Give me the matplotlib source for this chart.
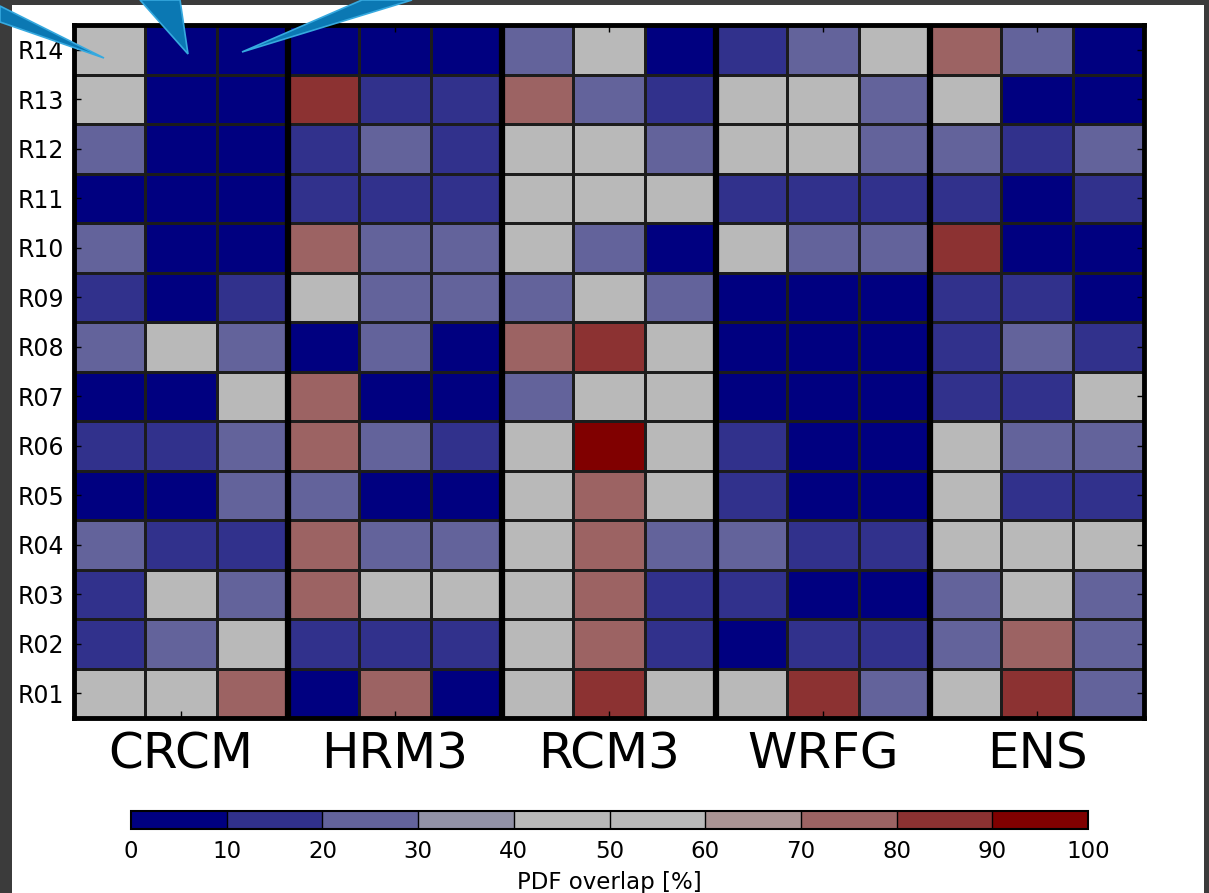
import numpy as np
import matplotlib
matplotlib.use("Agg")
import matplotlib.pyplot as plt
from matplotlib.colors import ListedColormap, BoundaryNorm
from matplotlib.patches import Rectangle, Polygon

# regions, listed top to bottom as in the figure
regions = ["R14", "R13", "R12", "R11", "R10", "R09", "R08",
           "R07", "R06", "R05", "R04", "R03", "R02", "R01"]
models = ["CRCM", "HRM3", "RCM3", "WRFG", "ENS"]

# PDF overlap [%], three columns per model, rows R14 -> R01
crcm = [[48, 3, 2], [52, 4, 1], [24, 2, 3], [6, 1, 2], [26, 3, 4],
        [14, 5, 16], [27, 45, 23], [7, 8, 51], [17, 12, 28], [5, 3, 22],
        [25, 18, 13], [11, 54, 26], [16, 21, 47], [55, 43, 73]]
hrm3 = [[2, 3, 4], [84, 15, 17], [13, 26, 18], [16, 14, 19], [74, 24, 27],
        [46, 22, 25], [6, 28, 4], [72, 5, 7], [76, 23, 12], [21, 3, 2],
        [77, 29, 24], [71, 53, 49], [15, 11, 14], [8, 78, 5]]
rcm3 = [[25, 44, 6], [73, 27, 13], [56, 42, 22], [50, 47, 58], [44, 26, 3],
        [23, 52, 28], [75, 86, 41], [24, 49, 57], [53, 96, 45], [48, 74, 55],
        [42, 77, 21], [57, 72, 17], [46, 79, 13], [51, 83, 43]]
wrfg = [[14, 25, 54], [47, 52, 23], [43, 58, 27], [18, 12, 15], [49, 22, 26],
        [4, 2, 6], [3, 5, 1], [7, 2, 4], [11, 3, 5], [16, 8, 2],
        [28, 19, 13], [12, 6, 3], [9, 17, 14], [45, 87, 24]]
ens = [[71, 24, 5], [50, 6, 3], [25, 16, 23], [13, 7, 18], [82, 4, 2],
       [15, 12, 8], [17, 26, 14], [11, 19, 53], [44, 27, 22], [56, 13, 16],
       [48, 55, 42], [21, 51, 28], [24, 76, 26], [47, 88, 23]]

bounds = list(range(0, 101, 10))
colors = ["#000080", "#31318c", "#63639b", "#9191a6", "#b9b9b9",
          "#b9b9b9", "#a99393", "#9c6363", "#8c3232", "#800000"]

W, H = 1209, 893
fig = plt.figure(figsize=(W / 100, H / 100), dpi=100, facecolor="#3b3b3b")

# white slide panel
fig.patches.append(Rectangle((12 / W, 0), 1192 / W, 1 - 5 / H,
                             transform=fig.transFigure, facecolor="white",
                             edgecolor="none", zorder=-5))

cmap = ListedColormap(colors)
norm = BoundaryNorm(bounds, cmap.N)

data = np.hstack([np.array(m) for m in [crcm, hrm3, rcm3, wrfg, ens]])
data = data[::-1]  # R01 at the bottom
nrow, ncol = data.shape

ax = fig.add_axes([74 / W, 1 - 718 / H, 1070 / W, 693 / H])
mesh = ax.pcolormesh(np.arange(ncol + 1), np.arange(nrow + 1), data,
                     cmap=cmap, norm=norm, edgecolors="#1c1c1c", linewidth=0.9)
ax.set_xlim(0, ncol)
ax.set_ylim(0, nrow)

for k in range(1, len(models)):
    ax.axvline(3 * k, color="black", lw=4.5)

for s in ax.spines.values():
    s.set_linewidth(3.5)

ax.set_yticks(np.arange(nrow) + 0.5)
ax.set_yticklabels(regions[::-1], fontsize=17)
ax.set_xticks(np.arange(len(models)) * 3 + 1.5)
ax.set_xticklabels(models, fontsize=36)
ax.tick_params(axis="y", direction="in", length=5, width=1, right=True, pad=7)
ax.tick_params(axis="x", direction="in", length=5, width=1, top=True, pad=9)

cax = fig.add_axes([131 / W, 1 - 829 / H, 957 / W, 18 / H])
cb = fig.colorbar(mesh, cax=cax, orientation="horizontal", drawedges=True,
                  ticks=bounds)
cb.outline.set_linewidth(1.5)
cb.dividers.set_linewidth(1.0)
cb.ax.tick_params(length=0, labelsize=16.5, pad=8)
cb.set_label("PDF overlap [%]", fontsize=16.5, labelpad=6)

# blue callout pointers from the slide
callouts = [
    [(0, 6), (0, 22), (104, 58)],
    [(140, 0), (180, 0), (188, 54)],
    [(362, 0), (412, 0), (242, 52)],
]
for pts in callouts:
    xy = [(x / W, 1 - y / H) for x, y in pts]
    fig.patches.append(Polygon(xy, closed=True, transform=fig.transFigure,
                               facecolor="#0b78b3", edgecolor="#36a9df",
                               lw=1.2, zorder=10))

fig.savefig("out.png", dpi=100, facecolor=fig.get_facecolor())
